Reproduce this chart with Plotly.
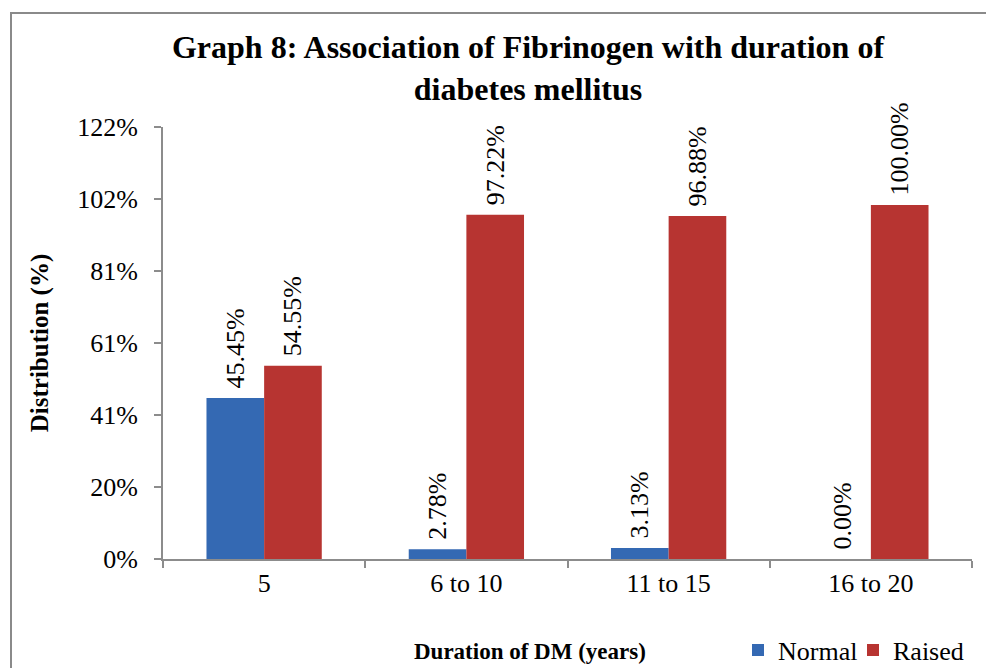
import plotly.graph_objects as go

categories = ["5", "6 to 10", "11 to 15", "16 to 20"]
normal = [45.45, 2.78, 3.13, 0.00]
raised = [54.55, 97.22, 96.88, 100.00]
ytick_vals = [0, 20.333, 40.667, 61, 81.333, 101.667, 122]
ytick_text = ["0%", "20%", "41%", "61%", "81%", "102%", "122%"]

FONT = "Times New Roman, Liberation Serif, Tinos, serif"
BLUE = "#3469B3"
RED = "#B73431"
AXIS = "#8C8C8C"

fig = go.Figure()
fig.add_trace(go.Bar(
    name="Normal", x=categories, y=normal,
    marker=dict(color=BLUE, line=dict(width=0)),
    text=[f"{v:.2f}%" for v in normal], texttemplate="\u00a0%{text}",
    textposition="outside",
    textangle=-90, constraintext="none", cliponaxis=False,
    textfont=dict(family=FONT, size=26, color="black"),
    legend="legend",
))
fig.add_trace(go.Bar(
    name="Raised", x=categories, y=raised,
    marker=dict(color=RED, line=dict(width=0)),
    text=[f"{v:.2f}%" for v in raised], texttemplate="\u00a0%{text}",
    textposition="outside",
    textangle=-90, constraintext="none", cliponaxis=False,
    textfont=dict(family=FONT, size=26, color="black"),
    legend="legend2",
))

fig.update_layout(
    width=986, height=668,
    margin=dict(l=163, r=14, t=127, b=109, autoexpand=False),
    paper_bgcolor="white", plot_bgcolor="white",
    font=dict(family=FONT, size=26, color="black"),
    barmode="group", bargap=0.43, bargroupgap=0,
    title=dict(
        text="<b>Graph 8: Association of Fibrinogen with duration of<br>diabetes mellitus</b>",
        font=dict(family=FONT, size=32, color="black"),
        x=528 / 986, xanchor="center", xref="container",
        y=1 - 58 / 668, yanchor="top", yref="container",
    ),
    xaxis=dict(
        type="category", showline=True, linecolor=AXIS, linewidth=2,
        ticks="outside", tickson="boundaries", ticklen=7, tickcolor=AXIS, tickwidth=2,
        showgrid=False, zeroline=False,
        tickfont=dict(family=FONT, size=26, color="black"),
    ),
    yaxis=dict(
        range=[0, 122], tickvals=ytick_vals, ticktext=ytick_text,
        showline=True, linecolor=AXIS, linewidth=2,
        ticks="outside", ticklen=7, tickcolor=AXIS, tickwidth=2,
        ticklabelstandoff=11,
        showgrid=False, zeroline=False,
        tickfont=dict(family=FONT, size=26, color="black"),
        title=dict(text="<b>Distribution (%)</b>", standoff=21,
                   font=dict(family=FONT, size=25, color="black")),
    ),
    legend=dict(orientation="h", x=(738 - 163) / 809, xanchor="left",
                y=(559 - 650) / 432, yanchor="middle",
                font=dict(family=FONT, size=26, color="black"),
                bgcolor="rgba(0,0,0,0)"),
    legend2=dict(orientation="h", x=(853 - 163) / 809, xanchor="left",
                 y=(559 - 650) / 432, yanchor="middle",
                 font=dict(family=FONT, size=26, color="black"),
                 bgcolor="rgba(0,0,0,0)"),
    showlegend=True,
)

fig.add_annotation(
    text="<b>Duration of DM (years)</b>", xref="paper", yref="paper",
    x=(530 - 163) / 809, y=(559 - 651) / 432, xanchor="center", yanchor="middle",
    showarrow=False, font=dict(family=FONT, size=23, color="black"),
)

fig.add_shape(
    type="rect", xref="paper", yref="paper",
    x0=(11 - 163) / 809, x1=1.2, y0=-0.6, y1=(559 - 13) / 432,
    line=dict(color="#8A8A8A", width=2), fillcolor="rgba(0,0,0,0)", layer="below",
)

fig.write_html("out.html")
